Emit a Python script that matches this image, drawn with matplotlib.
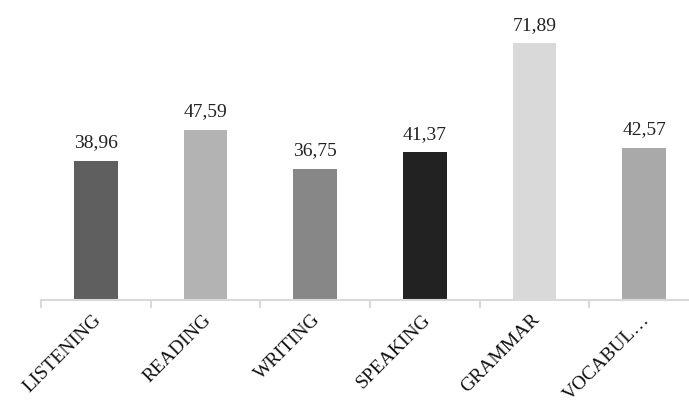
import numpy as np
import matplotlib.pyplot as plt
import matplotlib.transforms as mtransforms
from matplotlib.ticker import FixedLocator

categories = ["LISTENING", "READING", "WRITING", "SPEAKING", "GRAMMAR", "VOCABUL…"]
values = [38.96, 47.59, 36.75, 41.37, 71.89, 42.57]
bar_colors = ["#5f5f5f", "#b3b3b3", "#878787", "#222222", "#d9d9d9", "#a9a9a9"]

plt.rcParams['font.family'] = ['Liberation Serif', 'DejaVu Serif']

W, H = 689, 404
fig = plt.figure(figsize=(W / 100, H / 100), dpi=100)
# axis runs from x=41 past the right edge of the picture
left, right = 41, 699
base, top = 300, 300 - 80 * 3.575
ax = fig.add_axes([left / W, 1 - base / H, (right - left) / W, (base - top) / H])

x = np.arange(len(categories))
bars = ax.bar(x, values, width=0.4, color=bar_colors)
for xi, v in zip(x, values):
    ax.text(xi, v + 2.6, f"{v:.2f}".replace(".", ","), ha="center", va="bottom",
            fontsize=14, color="#222222")

ax.set_xlim(-0.5, len(categories) - 0.5)
ax.set_ylim(0, 80)
for s in ["top", "right", "left"]:
    ax.spines[s].set_visible(False)
ax.spines["bottom"].set_color("#d9d9d9")
ax.spines["bottom"].set_linewidth(1.5)
ax.set_yticks([])

ax.set_xticks(x)
ax.set_xticklabels(categories, rotation=45, ha="right", va="top",
                   rotation_mode="anchor", fontsize=14, color="#111111")
ax.tick_params(axis="x", which="major", length=0, pad=8)
shift = mtransforms.ScaledTranslation(-3 / 100, 0, fig.dpi_scale_trans)
for lab in ax.get_xticklabels():
    lab.set_transform(lab.get_transform() + shift)
ax.xaxis.set_minor_locator(FixedLocator(np.arange(-0.5, len(categories), 1.0)))
ax.tick_params(axis="x", which="minor", length=6, width=1.5, color="#d9d9d9")

fig.savefig("out.png", dpi=100)
